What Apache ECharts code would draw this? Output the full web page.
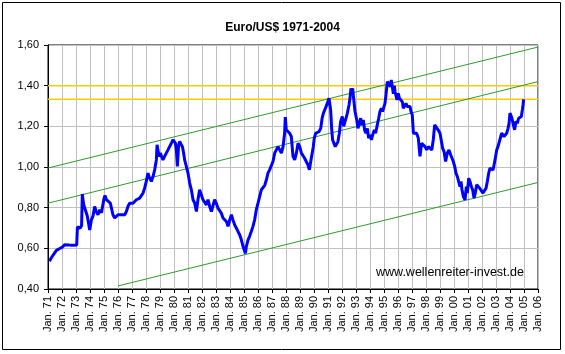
<!DOCTYPE html>
<html>
<head>
<meta charset="utf-8">
<script src="https://cdn.jsdelivr.net/npm/echarts@6/dist/echarts.min.js"></script>
<style>
  html, body { margin: 0; padding: 0; background: #fff; }
  #main { width: 565px; height: 354px; }
</style>
</head>
<body>
<div id="main"></div>
<script>
// Euro/US$ Kurs (Jahr als Dezimalzahl)
var dates = [
  1971.10, 1971.25, 1971.45, 1971.60, 1971.80, 1972.00, 1972.20, 1972.50, 1972.80, 1973.05,
  1973.10, 1973.30, 1973.40, 1973.45, 1973.55, 1973.68, 1973.80, 1973.98, 1974.10, 1974.22,
  1974.33, 1974.45, 1974.57, 1974.70, 1974.82, 1975.00, 1975.07, 1975.17, 1975.30, 1975.45,
  1975.55, 1975.64, 1975.76, 1975.88, 1976.00, 1976.24, 1976.36, 1976.48, 1976.60, 1976.71,
  1976.83, 1976.95, 1977.07, 1977.31, 1977.55, 1977.67, 1977.79, 1977.90, 1978.02, 1978.14,
  1978.26, 1978.38, 1978.50, 1978.62, 1978.74, 1978.79, 1978.93, 1979.02, 1979.21, 1979.33,
  1979.45, 1979.57, 1979.69, 1979.81, 1979.93, 1980.00, 1980.10, 1980.17, 1980.24, 1980.33,
  1980.40, 1980.52, 1980.60, 1980.69, 1980.76, 1980.88, 1981.00, 1981.12, 1981.24, 1981.36,
  1981.48, 1981.60, 1981.71, 1981.83, 1981.95, 1982.07, 1982.19, 1982.31, 1982.43, 1982.55,
  1982.67, 1982.79, 1982.90, 1983.02, 1983.14, 1983.26, 1983.38, 1983.50, 1983.62, 1983.74,
  1983.86, 1983.98, 1984.10, 1984.21, 1984.33, 1984.45, 1984.57, 1984.69, 1984.81, 1984.93,
  1985.05, 1985.10, 1985.17, 1985.29, 1985.40, 1985.52, 1985.64, 1985.76, 1985.88, 1986.00,
  1986.12, 1986.24, 1986.36, 1986.48, 1986.60, 1986.71, 1986.83, 1986.95, 1987.07, 1987.19,
  1987.31, 1987.43, 1987.55, 1987.67, 1987.79, 1987.90, 1987.95, 1988.02, 1988.14, 1988.26,
  1988.38, 1988.50, 1988.62, 1988.74, 1988.86, 1988.98, 1989.10, 1989.21, 1989.33, 1989.45,
  1989.57, 1989.67, 1989.80, 1989.95, 1990.02, 1990.12, 1990.24, 1990.36, 1990.48, 1990.58,
  1990.67, 1990.76, 1990.86, 1990.95, 1991.07, 1991.12, 1991.19, 1991.26, 1991.33, 1991.43,
  1991.52, 1991.62, 1991.71, 1991.81, 1991.90, 1992.02, 1992.12, 1992.24, 1992.38, 1992.50,
  1992.57, 1992.64, 1992.70, 1992.76, 1992.83, 1992.93, 1993.05, 1993.14, 1993.24, 1993.33,
  1993.43, 1993.52, 1993.62, 1993.71, 1993.81, 1993.90, 1994.00, 1994.10, 1994.19, 1994.31,
  1994.40, 1994.52, 1994.62, 1994.71, 1994.81, 1994.90, 1995.00, 1995.07, 1995.14, 1995.24,
  1995.31, 1995.38, 1995.45, 1995.52, 1995.60, 1995.67, 1995.74, 1995.79, 1995.86, 1995.93,
  1996.02, 1996.10, 1996.21, 1996.31, 1996.38, 1996.48, 1996.57, 1996.67, 1996.79, 1996.86,
  1996.93, 1997.02, 1997.10, 1997.21, 1997.33, 1997.45, 1997.57, 1997.69, 1997.81, 1997.93,
  1998.05, 1998.17, 1998.29, 1998.41, 1998.52, 1998.62, 1998.71, 1998.86, 1999.00, 1999.19,
  1999.29, 1999.40, 1999.52, 1999.64, 1999.76, 1999.86, 1999.95, 2000.05, 2000.14, 2000.24,
  2000.33, 2000.43, 2000.50, 2000.57, 2000.67, 2000.79, 2000.88, 2000.95, 2001.05, 2001.14,
  2001.24, 2001.33, 2001.43, 2001.52, 2001.62, 2001.71, 2001.83, 2001.95, 2002.07, 2002.19,
  2002.29, 2002.38, 2002.48, 2002.57, 2002.67, 2002.79, 2002.86, 2002.93, 2003.05, 2003.14,
  2003.24, 2003.33, 2003.40, 2003.48, 2003.57, 2003.67, 2003.76, 2003.86, 2003.93, 2004.00,
  2004.07, 2004.14, 2004.24, 2004.33, 2004.43, 2004.52, 2004.62, 2004.71, 2004.81, 2004.88,
  2004.93, 2004.97
]
var rates = [
  0.537, 0.555, 0.575, 0.590, 0.598, 0.605, 0.618, 0.616, 0.615, 0.616,
  0.705, 0.700, 0.712, 0.867, 0.814, 0.806, 0.760, 0.690, 0.740, 0.760,
  0.806, 0.780, 0.765, 0.790, 0.775, 0.845, 0.860, 0.839, 0.840, 0.822,
  0.830, 0.765, 0.749, 0.757, 0.765, 0.765, 0.773, 0.765, 0.781, 0.806,
  0.822, 0.814, 0.822, 0.839, 0.847, 0.855, 0.872, 0.896, 0.929, 0.970,
  0.945, 0.929, 0.953, 0.986, 1.035, 1.109, 1.052, 1.068, 1.035, 1.052,
  1.044, 1.084, 1.093, 1.117, 1.134, 1.142, 1.117, 1.084, 1.003, 1.109,
  1.125, 1.120, 1.100, 1.068, 1.035, 1.003, 0.970, 0.921, 0.888, 0.839,
  0.822, 0.781, 0.839, 0.888, 0.863, 0.839, 0.830, 0.814, 0.839, 0.806,
  0.781, 0.773, 0.839, 0.822, 0.798, 0.806, 0.773, 0.749, 0.757, 0.732,
  0.708, 0.740, 0.765, 0.740, 0.716, 0.700, 0.683, 0.667, 0.642, 0.610,
  0.585, 0.575, 0.610, 0.642, 0.659, 0.683, 0.708, 0.740, 0.790, 0.822,
  0.855, 0.888, 0.880, 0.910, 0.937, 0.970, 0.986, 0.994, 1.027, 1.068,
  1.084, 1.100, 1.084, 1.068, 1.100, 1.166, 1.245, 1.183, 1.174, 1.166,
  1.150, 1.052, 1.035, 1.068, 1.117, 1.100, 1.068, 1.060, 1.043, 1.035,
  1.010, 0.986, 1.040, 1.100, 1.142, 1.166, 1.160, 1.174, 1.190, 1.240,
  1.264, 1.256, 1.297, 1.313, 1.338, 1.330, 1.281, 1.190, 1.133, 1.125,
  1.100, 1.108, 1.125, 1.166, 1.223, 1.248, 1.200, 1.208, 1.264, 1.305,
  1.338, 1.387, 1.370, 1.387, 1.338, 1.273, 1.232, 1.190, 1.215, 1.240,
  1.207, 1.232, 1.180, 1.166, 1.190, 1.142, 1.158, 1.133, 1.158, 1.182,
  1.166, 1.207, 1.240, 1.273, 1.289, 1.273, 1.297, 1.313, 1.354, 1.420,
  1.428, 1.412, 1.395, 1.428, 1.420, 1.360, 1.400, 1.370, 1.378, 1.330,
  1.362, 1.338, 1.346, 1.320, 1.289, 1.281, 1.313, 1.297, 1.289, 1.297,
  1.273, 1.256, 1.166, 1.158, 1.166, 1.142, 1.052, 1.117, 1.125, 1.100,
  1.084, 1.100, 1.109, 1.084, 1.134, 1.207, 1.215, 1.183, 1.166, 1.092,
  1.076, 1.027, 1.068, 1.084, 1.060, 1.068, 1.027, 1.003, 0.970, 0.953,
  0.929, 0.904, 0.929, 0.888, 0.855, 0.839, 0.904, 0.872, 0.945, 0.929,
  0.904, 0.888, 0.847, 0.872, 0.913, 0.904, 0.896, 0.888, 0.872, 0.880,
  0.896, 0.929, 0.970, 0.994, 0.986, 0.986, 1.010, 1.035, 1.084, 1.100,
  1.125, 1.134, 1.166, 1.174, 1.150, 1.142, 1.166, 1.190, 1.215, 1.265,
  1.273, 1.240, 1.207, 1.183, 1.225, 1.215, 1.240, 1.232, 1.248, 1.280,
  1.305, 1.333
]

// Trendkanal (grün)
var upperTrend = [[1971, 0.995], [2006, 1.59]]
var middleTrend = [[1971, 0.822], [2006, 1.42]]
var lowerTrend = [[1976, 0.415], [2006, 0.924]]

// Horizontale Marken (gelb)
var levels = [1.40, 1.333]

var xMin = 1971
var xMax = 2006
var yMin = 0.4
var yMax = 1.6

var chart = echarts.init(document.getElementById('main'))

var seriesData = dates.map(function (d, i) {
  return [d, rates[i]]
})

var lineStyleGreen = { color: '#2f9a2f', width: 1 }

var series = []
levels.forEach(function (lv) {
  series.push({
    type: 'line',
    data: [[xMin, lv], [xMax, lv]],
    symbol: 'none',
    silent: true,
    z: 2,
    lineStyle: { color: '#ffcc00', width: 1.5 }
  })
})
;[upperTrend, middleTrend, lowerTrend].forEach(function (t) {
  series.push({
    type: 'line',
    data: t,
    symbol: 'none',
    silent: true,
    z: 3,
    lineStyle: lineStyleGreen
  })
})
series.push({
  name: 'Euro/US$',
  type: 'line',
  data: seriesData,
  symbol: 'none',
  z: 4,
  lineStyle: { color: '#0000ff', width: 3 }
})

var option = {
  animation: false,
  backgroundColor: '#fff',
  textStyle: { fontFamily: 'Arial, "Liberation Sans", sans-serif' },
  title: {
    text: 'Euro/US$ 1971-2004',
    left: 'center',
    top: 17,
    textStyle: { fontSize: 12, fontWeight: 'bold', color: '#000' }
  },
  grid: {
    left: 48,
    right: 27,
    top: 45,
    bottom: 65,
    show: true,
    borderColor: '#000',
    borderWidth: 1,
    backgroundColor: '#fff'
  },
  xAxis: {
    type: 'value',
    min: xMin,
    max: xMax,
    interval: 1,
    axisLine: { lineStyle: { color: '#000', width: 1 } },
    axisTick: { show: true, length: 4, lineStyle: { color: '#000' } },
    axisLabel: {
      rotate: 90,
      fontSize: 11,
      color: '#000',
      margin: 7,
      formatter: function (v) {
        return 'Jan. ' + String(v).slice(2)
      }
    },
    splitLine: { show: true, lineStyle: { color: '#c0c0c0', width: 1 } }
  },
  yAxis: {
    type: 'value',
    min: yMin,
    max: yMax,
    interval: 0.2,
    axisLine: { show: true, lineStyle: { color: '#000', width: 1 } },
    axisTick: { show: true, length: 4, lineStyle: { color: '#000' } },
    axisLabel: {
      fontSize: 11,
      color: '#000',
      margin: 9,
      formatter: function (v) {
        return v.toFixed(2).replace('.', ',')
      }
    },
    splitLine: { show: true, lineStyle: { color: '#c0c0c0', width: 1 } }
  },
  graphic: [
    {
      type: 'rect',
      shape: { x: 2.5, y: 2.5, width: 558, height: 347 },
      style: { fill: 'none', stroke: '#000', lineWidth: 1 },
      silent: true
    },
    {
      type: 'text',
      x: 376,
      y: 273,
      style: {
        text: 'www.wellenreiter-invest.de',
        fontSize: 12.5,
        fontFamily: 'Arial, "Liberation Sans", sans-serif',
        fill: '#000',
        verticalAlign: 'middle'
      },
      z: 10,
      silent: true
    }
  ],
  series: series
}

chart.setOption(option, true)
</script>
</body>
</html>
